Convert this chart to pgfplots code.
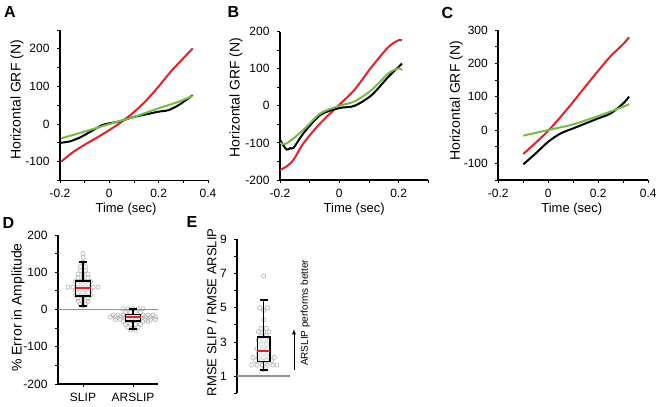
\documentclass[border=0pt]{standalone}
\usepackage{fontspec}
\setmainfont{Liberation Sans}
\usepackage{pgfplots}
\pgfplotsset{compat=1.18}
\usepgfplotslibrary{statistics}
\definecolor{cred}{RGB}{228,32,38}
\definecolor{cgreen}{RGB}{118,188,66}
\definecolor{cgrey}{RGB}{145,145,145}
\definecolor{cdot}{RGB}{185,185,185}
\pgfplotsset{
  myaxis/.style={
    scale only axis, anchor=south west,
    axis x line*=bottom, axis y line*=left,
    axis line style={line width=1.7pt, black},
    every tick/.style={black, line width=0.9pt},
    major tick length=3pt, minor tick length=3pt,
    tick align=outside,
    scaled ticks=false,
    /pgf/number format/assume math mode=true,
    /pgf/number format/fixed,
    tick label style={font=\fontsize{12}{12}\selectfont},
    yticklabel style={xshift=-4pt},
    xticklabel style={yshift=-2.5pt},
    label style={font=\fontsize{14}{14}\selectfont},
    xlabel style={font=\fontsize{13}{13}\selectfont},
  },
  curve/.style={line width=2pt, smooth},
  dots/.style={only marks, mark=o, mark size=2.1pt, cdot, mark options={line width=0.7pt}},
  mybox/.style={black, line width=1.5pt, boxplot/draw direction=y,
    boxplot/every box/.style={draw=black, line width=1.5pt, fill=white, fill opacity=0.4},
    boxplot/every whisker/.style={draw=black, line width=1.5pt},
    boxplot/every median/.style={draw=cred, line width=2pt}},
}
\begin{document}
\begin{tikzpicture}
% ---------------- A
\begin{axis}[myaxis, at={(60pt,226.5pt)}, width=148pt, height=150.5pt,
  xmin=-0.2, xmax=0.4, ymin=-150, ymax=250,
  xtick={-0.2,0,0.2,0.4}, minor xtick={-0.1,0.1,0.3},
  ytick={-100,0,100,200}, minor ytick={-150,-50,50,150,250},
  xlabel={Time (sec)}, ylabel={Horizontal GRF (N)},
  xlabel style={at={(axis description cs:0.446,-0.189)}, anchor=center},
  ylabel style={at={(axis description cs:-0.29,0.535)}, anchor=center}]
\addplot[curve, cred] coordinates {(-0.195,-100) (-0.15,-76) (-0.1,-55) (-0.05,-36) (0,-16) (0.05,6) (0.1,32) (0.15,63) (0.2,100) (0.25,140) (0.3,175) (0.338,201)};
\addplot[curve, black] coordinates {(-0.2,-50) (-0.16,-46) (-0.12,-36) (-0.1,-29) (-0.06,-14) (-0.03,-3) (0,2) (0.04,7) (0.1,19) (0.158,27) (0.2,33) (0.24,37) (0.28,50) (0.32,68) (0.338,77)};
\addplot[curve, cgreen] coordinates {(-0.195,-38) (-0.1,-20) (0,0) (0.1,19) (0.2,42) (0.28,59) (0.338,75)};
\end{axis}
% ---------------- B
\begin{axis}[myaxis, at={(280pt,227pt)}, width=148.3pt, height=148.3pt,
  xmin=-0.2, xmax=0.3, ymin=-200, ymax=200,
  xtick={-0.2,0,0.2}, minor xtick={-0.1,0.1,0.3},
  ytick={-200,-100,0,100,200}, minor ytick={-150,-50,50,150},
  xlabel={Time (sec)}, ylabel={Horizontal GRF (N)},
  xlabel style={at={(axis description cs:0.5,-0.196)}, anchor=center},
  ylabel style={at={(axis description cs:-0.297,0.556)}, anchor=center}]
\addplot[curve, cred] coordinates {(-0.2,-173) (-0.177,-163) (-0.154,-145) (-0.12,-100) (-0.063,-46) (0,3) (0.051,43) (0.109,105) (0.166,159) (0.2,177) (0.211,176)};
\addplot[curve, black] coordinates {(-0.2,-91) (-0.19,-105) (-0.177,-118) (-0.165,-114) (-0.154,-113) (-0.12,-73) (-0.063,-24) (0,-6) (0.051,0) (0.109,29) (0.166,79) (0.2,105) (0.211,114)};
\addplot[curve, cgreen] coordinates {(-0.2,-100) (-0.177,-101) (-0.12,-64) (-0.063,-20) (0,0) (0.051,12) (0.109,43) (0.166,88) (0.2,101) (0.211,96)};
\end{axis}
% ---------------- C
\begin{axis}[myaxis, at={(498.3pt,227pt)}, width=150pt, height=150pt,
  xmin=-0.2, xmax=0.4, ymin=-150, ymax=300,
  xtick={-0.2,0,0.2,0.4}, minor xtick={-0.1,0.1,0.3},
  ytick={-100,0,100,200,300}, minor ytick={-150,-50,50,150,250},
  xlabel={Time (sec)}, ylabel={Horizontal GRF (N)},
  xlabel style={at={(axis description cs:0.49,-0.193)}, anchor=center},
  ylabel style={at={(axis description cs:-0.28,0.527)}, anchor=center}]
\addplot[curve, cred] coordinates {(-0.1,-72) (-0.05,-38) (0,-2) (0.05,40) (0.1,85) (0.15,132) (0.2,178) (0.25,222) (0.3,258) (0.323,278)};
\addplot[curve, black] coordinates {(-0.1,-103) (-0.05,-70) (0,-35) (0.05,-10) (0.1,5) (0.15,20) (0.2,35) (0.25,50) (0.3,80) (0.323,100)};
\addplot[curve, cgreen] coordinates {(-0.1,-17) (0,0) (0.1,17) (0.2,42) (0.3,70) (0.323,77)};
\end{axis}
% ---------------- D
\begin{axis}[myaxis, at={(58pt,23pt)}, width=100pt, height=149pt,
  set layers, mark layer=axis background,
  xmin=0.5, xmax=2.5, ymin=-200, ymax=200, clip=false,
  xtick={1,2}, xticklabels={SLIP,ARSLIP}, minor xtick={},
  ytick={-200,-100,0,100,200}, minor ytick={-150,-50,50,150},
  ylabel={\% Error in Amplitude},
  ylabel style={at={(axis description cs:-0.4,0.513)}, anchor=center}]
\addplot[cgrey, line width=1.5pt] coordinates {(0.5,0) (2.5,0)};
\addplot[dots] coordinates {
(1.0,150) (1.0,140) (1.0,128) (0.95,115) (1.05,115) (0.95,105) (1.05,105)
(0.9,95) (1.0,95) (1.1,95) (0.9,85) (1.0,85) (1.1,85)
(0.85,75) (0.95,75) (1.05,75) (1.15,75) (0.9,68) (1.0,68) (1.1,68)
(0.7,60) (0.8,60) (0.9,60) (1.0,60) (1.1,60) (1.2,60) (1.3,60)
(0.85,52) (0.95,52) (1.05,52) (1.15,52) (0.9,45) (1.0,45) (1.1,45)
(0.85,38) (0.95,38) (1.05,38) (1.15,38) (0.9,30) (1.0,30) (1.1,30)
(0.9,22) (1.0,22) (1.1,22) (0.95,14) (1.05,14) (1.0,10)};
\addplot[dots] coordinates {
(1.8,2) (1.9,2) (2.0,2) (2.1,2) (2.2,2)
(1.85,-8) (1.95,-8) (2.05,-8) (2.15,-8)
(1.6,-15) (1.7,-15) (1.8,-15) (2.2,-15) (2.3,-15) (2.4,-15)
(1.55,-20) (1.65,-20) (1.75,-20) (1.85,-20) (1.95,-20) (2.05,-20) (2.15,-20) (2.25,-20) (2.35,-20) (2.45,-20)
(1.65,-27) (1.75,-27) (2.25,-27) (2.35,-27) (2.45,-27)
(1.8,-32) (1.9,-32) (2.0,-32) (2.1,-32) (2.2,-32) (2.3,-32)
(1.85,-40) (1.95,-40) (2.05,-40) (2.15,-40)
(1.9,-48) (2.0,-48) (2.1,-48) (1.95,-55) (2.05,-55)};
\addplot[mybox, boxplot prepared={lower whisker=9, lower quartile=36, median=58, upper quartile=76, upper whisker=128, draw position=1, box extend=0.3, whisker extend=0.16}] coordinates {};
\addplot[mybox, boxplot prepared={lower whisker=-52, lower quartile=-31, median=-21, upper quartile=-13, upper whisker=2, draw position=2, box extend=0.3, whisker extend=0.16}] coordinates {};
\end{axis}
% ---------------- E
\begin{axis}[myaxis, at={(237.3pt,13.7pt)}, width=52.7pt, height=154pt,
  set layers, mark layer=axis background,
  axis x line=none,
  xmin=0, xmax=2, ymin=0, ymax=9, clip=false,
  ytick={1,3,5,7,9}, minor ytick={0,2,4,6,8},
  ylabel={RMSE SLIP / RMSE ARSLIP},
  ylabel style={font=\fontsize{13}{13}\selectfont, at={(axis description cs:-0.486,0.526)}, anchor=center}]
\addplot[cgrey, line width=1.5pt] coordinates {(0,1) (2,1)};
\addplot[dots] coordinates {
(1.0,6.85) (0.85,5.0) (1.15,5.0) (1.0,4.85) (1.0,4.3)
(0.9,3.8) (1.1,3.8) (0.8,3.6) (1.0,3.6) (1.2,3.6) (0.9,3.35) (1.1,3.35)
(0.8,3.1) (1.0,3.1) (1.2,3.1) (0.9,2.85) (1.1,2.85)
(0.75,2.6) (0.95,2.6) (1.15,2.6) (0.8,2.35) (1.0,2.35) (1.2,2.35)
(0.6,2.1) (0.8,2.1) (1.0,2.1) (1.2,2.1) (1.4,2.1)
(0.7,1.9) (0.9,1.9) (1.1,1.9) (1.3,1.9)
(0.55,1.65) (0.75,1.65) (0.95,1.65) (1.15,1.65) (1.35,1.65) (1.5,1.65) (1.0,1.4)};
\addplot[mybox, boxplot prepared={lower whisker=1.35, lower quartile=1.85, median=2.45, upper quartile=3.3, upper whisker=5.45, draw position=1, box extend=0.48, whisker extend=0.3}] coordinates {};
\draw[-latex, line width=0.8pt] (axis cs:2.15,1.37) -- (axis cs:2.15,3.75);
\node[rotate=90, font=\fontsize{10}{10}\selectfont] at (axis cs:2.58,4.7) {ARSLIP performs better};
\end{axis}
% panel letters
\node[font=\fontsize{16}{16}\bfseries] at (10pt,394.5pt) {A};
\node[font=\fontsize{16}{16}\bfseries] at (233.5pt,394.5pt) {B};
\node[font=\fontsize{16}{16}\bfseries] at (447.5pt,394.5pt) {C};
\node[font=\fontsize{16}{16}\bfseries] at (8.5pt,184.5pt) {D};
\node[font=\fontsize{16}{16}\bfseries] at (192pt,185pt) {E};
\pgfresetboundingbox
\path[use as bounding box] (0,0) rectangle (659pt,407pt);
\end{tikzpicture}
\end{document}
